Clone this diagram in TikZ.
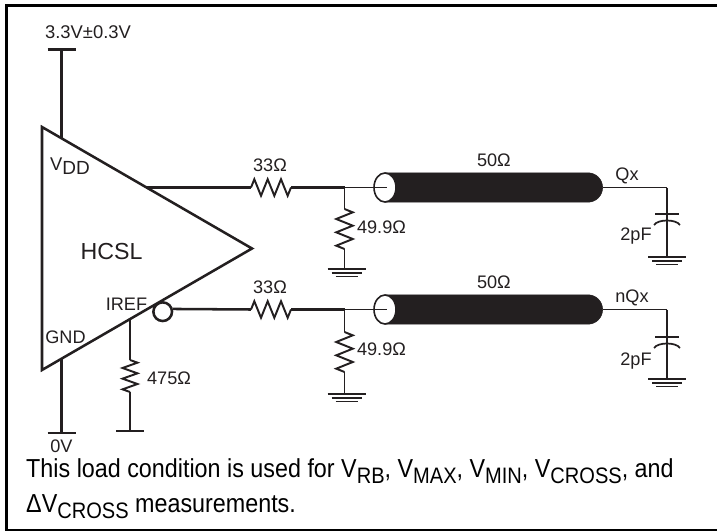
\documentclass[tikz,border=0pt]{standalone}
\usepackage{fontspec}
\setmainfont{Liberation Sans}
\usetikzlibrary{positioning,decorations.pathmorphing,shapes.misc,shapes.geometric}
\definecolor{ink}{HTML}{231F20}
\newcommand{\lowtext}[1]{\raisebox{-.45ex}{\scalebox{.86}{#1}}}
\tikzset{
	wire/.style={draw=ink, line width=1.9pt},
	thinwire/.style={draw=ink, line width=1.45pt},
	zz/.style={thinwire, decorate, decoration={zigzag, segment length=10pt, amplitude=6.2pt}},
	zzsmall/.style={zz, decoration={zigzag, segment length=8pt, amplitude=5.6pt}},
	lbl/.style={text=ink, inner sep=0pt, font=\fontsize{13.8}{15}\selectfont},
	lblsmall/.style={text=ink, inner sep=0pt, font=\fontsize{13.6}{15}\selectfont},
	coax/.style={rounded rectangle, rounded rectangle west arc=none, fill=ink, draw=ink, inner sep=0pt,
		minimum width=163pt, minimum height=22pt, anchor=west},
	coaxend/.style={ellipse, fill=white, draw=ink, line width=1.2pt, inner sep=0pt,
		minimum width=16.5pt, minimum height=21.8pt},
	gnd/.pic={
		\draw [ink, line width=1.3pt] (-19,0) -- (19,0);
		\draw [ink, line width=1.3pt] (-15,3.8) -- (15,3.8);
		\draw [ink, line width=1.3pt] (-11,7.6) -- (11,7.6);
	},
	rail/.pic={\draw [ink, line width=1.9pt] (-14,0) -- (14,0);},
	capplate/.pic={
		\draw [ink, line width=1.3pt] (-12,0) -- (12,0);
		\draw [ink, line width=1.3pt] (-13,11) .. controls (-9,5) and (9,5) .. (13,11);
	},
}
\begin{document}
\begin{tikzpicture}[x=0.75pt, y=-0.75pt, node distance = 10pt, on grid]
	\useasboundingbox (0,0) rectangle (717,531);
	\draw [black, line width=2.3pt] (717,5.5) -- (6.5,5.5) -- (6.5,530);
	\draw [black, line width=1.6pt] (5,530) -- (717,530);

	% amplifier
	\coordinate (apex) at (42,127);
	\coordinate (tip) at (252,248.5);
	\coordinate (base) at (42,370);
	\draw [wire, line join=miter] (apex) -- (tip) -- (base) -- cycle;
	\node (hcsl) [text=ink, inner sep=0pt, font=\fontsize{17.4}{20}\selectfont] at (111.5,252) {HCSL};
	\node (vdd) [lbl] at (70,166) {V\lowtext{\scalebox{1.2}{DD}}};
	\node (gndpin) [lblsmall] at (65.5,337) {GND};
	\node (iref) [lblsmall] at (126.5,304) {IREF};
	\node (bub) [circle, draw=ink, line width=1.9pt, fill=white, inner sep=0pt, minimum size=14pt] at (162.7,311.7) {};

	% supply and return
	\coordinate (vtop) at (61.5,49.5);
	\coordinate (vpin) at (61.5,138);
	\coordinate (gpin) at (61.5,359);
	\coordinate (gbot) at (61.5,433);
	\pic at (vtop) {rail};
	\pic at (gbot) {rail};
	\node (supply) [lbl] at (88,32) {3.3V±0.3V};
	\node (zero) [lblsmall, below=5.2pt of gbot] {0V};

	% iref resistor
	\coordinate (ipin) at (130,319);
	\coordinate (ra) at (130,360);
	\coordinate (rb) at (130,392);
	\coordinate (ibot) at (130,431);
	\pic at (ibot) {rail};
	\node (rilbl) [lblsmall] at (169,378) {475Ω};

	% upper channel
	\coordinate (outa) at (147,187.5);
	\coordinate (r1a) at (251,187.5);
	\coordinate (r1b) at (291,187.5);
	\coordinate (j1) at (344.5,187.5);
	\coordinate (p1a) at (344.5,209);
	\coordinate (p1b) at (344.5,249);
	\coordinate (g1) at (344.5,269);
	\coordinate (c1in) at (387,187.5);
	\coordinate (q1) at (667,187.5);
	\coordinate (k1a) at (667,214);
	\coordinate (k1b) at (667,257);
	\node (coax1) [coax] at (385,187.5) {};
	\node (end1) [coaxend] at (385,187.5) {};
	\pic at (346.5,269) {gnd};
	\pic at (k1a) {capplate};
	\pic at (k1b) {gnd};
	\node (r1lbl) [lblsmall] at (270,165) {33Ω};
	\node (p1lbl) [lblsmall] at (381.5,227) {49.9Ω};
	\node (z1lbl) [lblsmall, above=15.3pt of coax1.center] {50Ω};
	\node (q1lbl) [lblsmall] at (627,176) {Qx};
	\node (c1lbl) [lblsmall] at (636,236.5) {2pF};

	% lower channel
	\coordinate (r2a) at (251,309.5);
	\coordinate (r2b) at (291,309.5);
	\coordinate (j2) at (344.5,309.5);
	\coordinate (p2a) at (344.5,332);
	\coordinate (p2b) at (344.5,372);
	\coordinate (g2) at (344.5,394);
	\coordinate (c2in) at (387,309.5);
	\coordinate (q2) at (667,309.5);
	\coordinate (k2a) at (667,337);
	\coordinate (k2b) at (667,379);
	\node (coax2) [coax] at (385,309.5) {};
	\node (end2) [coaxend] at (385,309.5) {};
	\pic at (346.5,394) {gnd};
	\pic at (k2a) {capplate};
	\pic at (k2b) {gnd};
	\node (r2lbl) [lblsmall] at (270,287) {33Ω};
	\node (p2lbl) [lblsmall] at (381.5,349) {49.9Ω};
	\node (z2lbl) [lblsmall, above=15.3pt of coax2.center] {50Ω};
	\node (q2lbl) [lblsmall] at (632,298) {nQx};
	\node (c2lbl) [lblsmall] at (636,361) {2pF};

	\path [wire]
	(vtop)	edge	(vpin)
	(gpin)	edge	(gbot)
	(ipin)	edge	(ra)
	(rb)	edge	(ibot)
	(outa)	edge	(r1a)
	(r1b)	edge	(j1)
	(bub.15)	edge	(r2a)
	(r2b)	edge	(j2)
	;

	\path [thinwire]
	(j1)	edge	(c1in)
		edge	(p1a)
	(p1b)	edge	(g1)
	(coax1.east)	edge	(q1)
	(q1)	edge	(k1a)
	(j2)	edge	(c2in)
		edge	(p2a)
	(p2b)	edge	(g2)
	(coax2.east)	edge	(q2)
	(q2)	edge	(k2a)
	(k1a)	edge	(k1b)
	(k2a)	edge	(k2b)
	;

	\draw [zz] (r1a) -- (r1b);
	\draw [zz] (r2a) -- (r2b);
	\draw [zz] (p1a) -- (p1b);
	\draw [zz] (p2a) -- (p2b);
	\draw [zzsmall] (ra) -- (rb);

	\node (note) [text=black, inner sep=0pt, anchor=north west, align=left, xscale=.897, font=\fontsize{19.5}{26.2}\selectfont] at (26,458)
		{This load condition is used for V\lowtext{RB}, V\lowtext{MAX}, V\lowtext{MIN}, V\lowtext{CROSS}, and\\
		ΔV\lowtext{CROSS} measurements.};
\end{tikzpicture}
\end{document}
